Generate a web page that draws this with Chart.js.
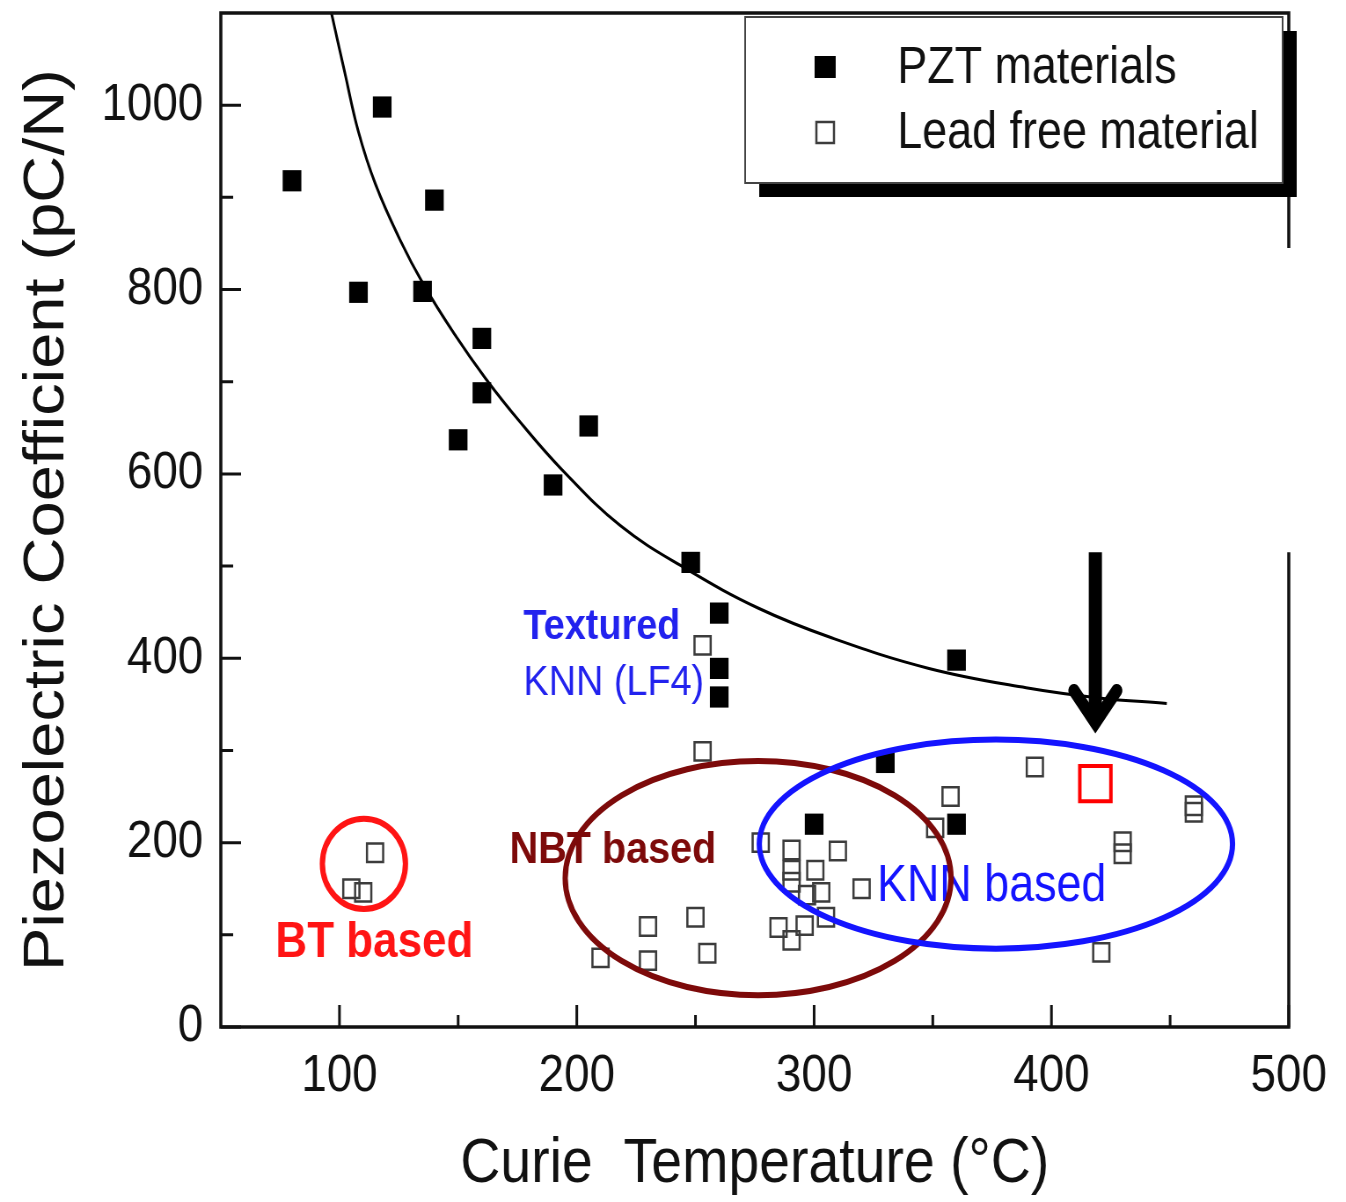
<!DOCTYPE html>
<html>
<head>
<meta charset="utf-8">
<script src="https://cdn.jsdelivr.net/npm/chart.js@4.4.1/dist/chart.umd.min.js"></script>
<style>
    html, body { margin: 0; padding: 0; background: #fff; overflow: hidden; }
    /* the figure is drawn wide and squeezed horizontally, like the printed plot */
    #wrap { width: 1530px; height: 1202px; transform: scaleX(0.8797); transform-origin: 0 0; }
</style>
</head>
<body>
<div id="wrap"><canvas id="chartCurie"></canvas></div>
<script>
// PZT materials: Curie temperature (°C) and d33 (pC/N)
const pztTc  = [80, 118, 140, 108, 135, 160, 160, 150, 205, 190, 248, 260, 260, 260, 360, 330, 300, 360];
const pztD33 = [918, 998, 897, 797, 798, 747, 688, 637, 652, 588, 504, 449, 389, 358, 398, 287, 220, 220];

// lead free materials
const leadFreeTc  = [115, 105, 110, 253, 253, 210, 230, 230, 250, 255, 277.5, 290.5, 290.5, 290.5, 300.5, 303, 297,
                     310, 320, 305, 296, 285, 290.5, 351, 357.5, 393, 430, 430, 460, 460, 421];
const leadFreeD33 = [189, 150, 146, 414, 299, 75, 109, 72, 119, 80, 200, 192, 170, 157, 170, 146, 143,
                     191, 150, 119, 110, 108, 94, 216, 250, 282, 201, 188, 240, 233, 81];

// highlighted sample (red square under the arrow)
const highlightTc  = [418.5];
const highlightD33 = [264];

// upper bound trend line
const fitTc  = [96.6, 102.1, 108, 115.2, 125.3, 135.5, 148.6, 161.7, 176.2, 193.6, 218.3, 246.1, 276.8, 307.6, 348.4, 389.3, 420, 448.6];
const fitD33 = [1100, 1037, 971, 914, 855, 805, 751, 703, 656, 605, 544, 497, 454, 422, 389, 368, 357, 351];

// axis ticks
const xTicks = [100, 200, 300, 400, 500];
const xMinorTicks = [150, 250, 350, 450];
const yTicks = [0, 200, 400, 600, 800, 1000];
const yMinorTicks = [100, 300, 500, 700, 900];

// material family regions: centre and half sizes in data units
const regionNames = ['BT', 'NBT', 'KNN'];
const regionTc    = [110.3, 276.4, 376.6];
const regionD33   = [177, 161.5, 198.4];
const regionRTc   = [17.5, 81.3, 99.7];
const regionRD33  = [49, 127, 113.4];
const regionColor = ['#ff1414', '#7d0a0a', '#1414ff'];

// text labels
const labelText  = ['BT based', 'NBT based', 'Textured', 'KNN (LF4)', 'KNN based'];
const labelTc    = [114.7, 215.2, 177.5, 177.5, 326.5];
const labelD33   = [75.6, 178, 421, 360.7, 137];
const labelFont  = ['bold 50px', 'bold 45px', 'bold 43px', '43px', '51px'];
const labelColor = ['#ff1414', '#7d0a0a', '#2222ee', '#2222ee', '#1414ff'];
const labelAlign = ['center', 'center', 'left', 'left', 'left'];

// arrow pointing at the highlighted sample
const arrowTc = 418.5;
const arrowTop = 515, arrowTip = 330, arrowBarb = 365, arrowHalf = 9;

const FONT = '"Liberation Sans", Arial, Helvetica, sans-serif';

const toPoints = (xs, ys) => xs.map((v, i) => ({ x: v, y: ys[i] }));

// frame, inward ticks, regions, labels and arrow
const decorations = {
    id: 'decorations',
    afterDatasetsDraw(chart) {
        const ctx = chart.ctx;
        const { x, y } = chart.scales;
        const a = chart.chartArea;
        ctx.save();

        // labels first, the region outlines run over them
        labelText.forEach((t, i) => {
            ctx.font = `${labelFont[i]} ${FONT}`;
            ctx.fillStyle = labelColor[i];
            ctx.textAlign = labelAlign[i];
            ctx.textBaseline = 'alphabetic';
            ctx.fillText(t, x.getPixelForValue(labelTc[i]), y.getPixelForValue(labelD33[i]));
        });

        regionNames.forEach((n, i) => {
            const cx = x.getPixelForValue(regionTc[i]);
            const cy = y.getPixelForValue(regionD33[i]);
            const rx = x.getPixelForValue(regionTc[i] + regionRTc[i]) - cx;
            const ry = cy - y.getPixelForValue(regionD33[i] + regionRD33[i]);
            ctx.beginPath();
            ctx.ellipse(cx, cy, rx, ry, 0, 0, Math.PI * 2);
            ctx.lineWidth = 6;
            ctx.strokeStyle = regionColor[i];
            ctx.stroke();
        });

        // arrow
        const ax = x.getPixelForValue(arrowTc);
        const tipY = y.getPixelForValue(arrowTip);
        const dx = x.getPixelForValue(arrowTc + arrowHalf) - ax;
        ctx.strokeStyle = '#000';
        ctx.lineWidth = 15;
        ctx.lineCap = 'butt';
        ctx.beginPath();
        ctx.moveTo(ax, y.getPixelForValue(arrowTop));
        ctx.lineTo(ax, tipY);
        ctx.stroke();
        ctx.lineWidth = 13;
        ctx.lineCap = 'round';
        ctx.lineJoin = 'miter';
        ctx.beginPath();
        ctx.moveTo(ax - dx, y.getPixelForValue(arrowBarb));
        ctx.lineTo(ax, tipY);
        ctx.lineTo(ax + dx, y.getPixelForValue(arrowBarb));
        ctx.stroke();

        // frame (the right side has a break in it)
        ctx.strokeStyle = '#111';
        ctx.lineWidth = 3.5;
        ctx.lineCap = 'butt';
        ctx.beginPath();
        ctx.moveTo(a.right, y.getPixelForValue(845));
        ctx.lineTo(a.right, a.top);
        ctx.lineTo(a.left, a.top);
        ctx.lineTo(a.left, a.bottom);
        ctx.lineTo(a.right, a.bottom);
        ctx.lineTo(a.right, y.getPixelForValue(515));
        ctx.stroke();

        // inward tick marks
        ctx.lineWidth = 3;
        ctx.beginPath();
        const vTick = (v, len) => {
            const px = x.getPixelForValue(v);
            ctx.moveTo(px, a.bottom); ctx.lineTo(px, a.bottom - len);
        };
        const hTick = (v, len) => {
            const py = y.getPixelForValue(v);
            ctx.moveTo(a.left, py); ctx.lineTo(a.left + len, py);
        };
        xTicks.forEach(v => vTick(v, 22));
        xMinorTicks.forEach(v => vTick(v, 12));
        yTicks.forEach(v => hTick(v, 23));
        yMinorTicks.forEach(v => hTick(v, 14));
        ctx.stroke();
        ctx.restore();
    }
};

// legend box with a drop shadow, top right of the plot
const legendBox = {
    id: 'legendBox',
    afterDraw(chart) {
        const ctx = chart.ctx;
        const a = chart.chartArea;
        const w = 611, h = 166;
        const left = a.right - 7 - w, top = a.top + 4;
        ctx.save();
        ctx.fillStyle = '#000';
        ctx.fillRect(left + 16, top + 14, w, h);
        ctx.fillStyle = '#fff';
        ctx.fillRect(left, top, w, h);
        ctx.strokeStyle = '#444';
        ctx.lineWidth = 2;
        ctx.strokeRect(left, top, w, h);

        const items = chart.data.datasets.filter(d => d.inLegend);
        items.forEach((d, i) => {
            const cy = top + 50 + i * 65;
            const mx = left + 91;
            if (d.backgroundColor !== 'transparent') {
                ctx.fillStyle = d.backgroundColor;
                ctx.fillRect(mx - 12, cy - 11, 24, 22);
            } else {
                ctx.strokeStyle = d.borderColor;
                ctx.lineWidth = 2.5;
                ctx.strokeRect(mx - 10, cy - 10, 20, 21);
            }
            ctx.fillStyle = '#111';
            ctx.font = `51px ${FONT}`;
            ctx.textAlign = 'left';
            ctx.textBaseline = 'middle';
            ctx.fillText(d.label, left + 173, cy + 2);
        });
        ctx.restore();
    }
};

const ctx = document.getElementById('chartCurie').getContext('2d');
new Chart(ctx, {
    type: 'scatter',
    data: {
        datasets: [
            {
                label: 'Highlighted sample',
                data: toPoints(highlightTc, highlightD33),
                pointStyle: 'rect',
                pointRadius: 25,
                borderWidth: 4,
                borderColor: '#ff0000',
                backgroundColor: 'transparent'
            },
            {
                label: 'PZT materials',
                inLegend: true,
                data: toPoints(pztTc, pztD33),
                pointStyle: 'rect',
                pointRadius: 15,
                borderWidth: 0,
                borderColor: '#000',
                backgroundColor: '#000'
            },
            {
                label: 'Lead free material',
                inLegend: true,
                data: toPoints(leadFreeTc, leadFreeD33),
                pointStyle: 'rect',
                pointRadius: 13,
                borderWidth: 2.5,
                borderColor: '#3c3c3c',
                backgroundColor: 'transparent'
            },
            {
                label: 'Trend',
                type: 'line',
                data: toPoints(fitTc, fitD33),
                showLine: true,
                pointRadius: 0,
                borderColor: '#000',
                borderWidth: 3,
                tension: 0.4,
                fill: false
            }
        ]
    },
    options: {
        responsive: true,
        maintainAspectRatio: false,
        animation: false,
        layout: { autoPadding: false, padding: { top: 13, right: 65, left: 0, bottom: 0 } },
        plugins: {
            legend: { display: false },
            tooltip: { enabled: false }
        },
        scales: {
            x: {
                type: 'linear',
                min: 50,
                max: 500,
                afterBuildTicks: scale => { scale.ticks = xTicks.map(v => ({ value: v })); },
                afterFit: scale => {
                    scale.height = 175;
                    scale.paddingLeft = 0;
                    scale.paddingRight = 0;
                },
                grid: { display: false, drawTicks: false },
                border: { display: false },
                ticks: {
                    padding: 18,
                    color: '#111',
                    font: { family: FONT, size: 52 },
                    callback: v => String(v)
                },
                title: {
                    display: true,
                    text: 'Curie  Temperature (°C)',
                    color: '#111',
                    font: { family: FONT, size: 63 },
                    padding: { top: 0, bottom: 0 }
                }
            },
            y: {
                type: 'linear',
                min: 0,
                max: 1100,
                afterBuildTicks: scale => { scale.ticks = yTicks.map(v => ({ value: v })); },
                afterFit: scale => {
                    scale.width = 251;
                    scale.paddingTop = 0;
                    scale.paddingBottom = 0;
                },
                grid: { display: false, drawTicks: false },
                border: { display: false },
                ticks: {
                    padding: 20,
                    color: '#111',
                    font: { family: FONT, size: 52 },
                    callback: v => String(v)
                },
                title: {
                    display: true,
                    text: 'Piezoelectric Coefficient (pC/N)',
                    color: '#111',
                    font: { family: FONT, size: 65 },
                    padding: { top: 15, bottom: 0 }
                }
            }
        }
    },
    plugins: [decorations, legendBox]
});
</script>
</body>
</html>
